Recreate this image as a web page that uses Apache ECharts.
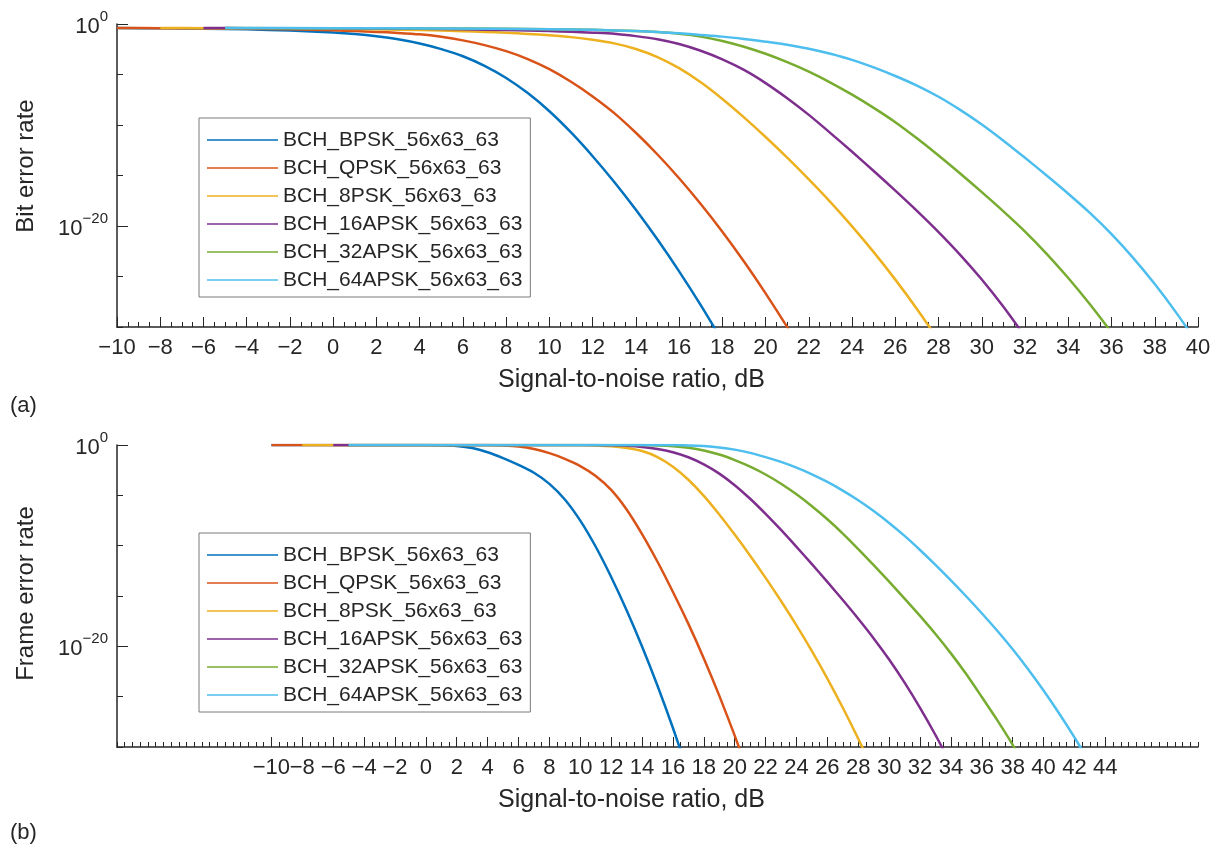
<!DOCTYPE html>
<html>
<head>
<meta charset="utf-8">
<script src="https://cdn.jsdelivr.net/npm/echarts@6/dist/echarts.min.js"></script>
<style>
html,body{margin:0;padding:0;background:#ffffff;}
#chart{width:1218px;height:850px;}
</style>
</head>
<body>
<div id="chart"></div>
<script>
// ---------- categories ----------
const seriesNames = ['BCH_BPSK_56x63_63','BCH_QPSK_56x63_63','BCH_8PSK_56x63_63','BCH_16APSK_56x63_63','BCH_32APSK_56x63_63','BCH_64APSK_56x63_63'];

// ---------- tick labels ----------
const xTicksA = [-10,-8,-6,-4,-2,0,2,4,6,8,10,12,14,16,18,20,22,24,26,28,30,32,34,36,38,40];
const xTicksB = [-10,-8,-6,-4,-2,0,2,4,6,8,10,12,14,16,18,20,22,24,26,28,30,32,34,36,38,40,42,44];
const yTickExps = [-20, 0];   // labelled decades: 10^-20 and 10^0

// ---------- panel (a): bit error rate, values read as log10(BER) ----------
const snrA_BPSK   = [-10,-8,-6,-4,-2,0,1,2,3,4,5,6,7,8,9,10,11,12,13,14,15,16,17,18];
const logBerA_BPSK = [-0.40,-0.42,-0.46,-0.53,-0.65,-0.85,-1.00,-1.22,-1.52,-1.94,-2.49,-3.19,-4.14,-5.34,-6.84,-8.64,-10.74,-13.09,-15.64,-18.39,-21.34,-24.49,-27.84,-31.39];

const snrA_QPSK   = [-10,-8,-6,-4,-2,0,1,2,3,4,5,6,7,8,9,10,11,12,13,14,15,16,17,18,19,20,21,22];
const logBerA_QPSK = [-0.40,-0.41,-0.43,-0.47,-0.53,-0.63,-0.70,-0.78,-0.88,-1.02,-1.27,-1.62,-2.09,-2.69,-3.47,-4.47,-5.72,-7.17,-8.82,-10.77,-12.92,-15.27,-17.82,-20.57,-23.52,-26.67,-30.02,-33.60];

const snrA_8PSK   = [-8,-6,-4,-2,0,2,4,6,7,8,9,10,11,12,13,14,15,16,17,18,19,20,21,22,23,24,25,26,27,28];
const logBerA_8PSK = [-0.40,-0.41,-0.42,-0.44,-0.48,-0.53,-0.60,-0.71,-0.78,-0.87,-0.98,-1.12,-1.30,-1.56,-1.92,-2.47,-3.27,-4.37,-5.77,-7.42,-9.24,-11.19,-13.24,-15.39,-17.64,-20.04,-22.59,-25.31,-28.21,-31.31];

const snrA_16APSK   = [-6,-4,-2,0,2,4,6,8,10,11,12,13,14,15,16,17,18,19,20,21,22,23,24,25,26,27,28,29,30,31,32];
const logBerA_16APSK = [-0.40,-0.41,-0.42,-0.43,-0.45,-0.48,-0.53,-0.60,-0.70,-0.77,-0.86,-0.97,-1.20,-1.50,-1.98,-2.65,-3.50,-4.55,-5.85,-7.35,-9.00,-10.80,-12.65,-14.55,-16.50,-18.50,-20.60,-22.85,-25.30,-28.00,-30.95];

const snrA_32APSK   = [-5,0,4,8,10,12,14,15,16,17,18,19,20,21,22,23,24,25,26,27,28,29,30,31,32,33,34,35,36,37];
const logBerA_32APSK = [-0.40,-0.42,-0.44,-0.48,-0.52,-0.58,-0.70,-0.80,-0.97,-1.25,-1.68,-2.25,-2.95,-3.78,-4.72,-5.80,-7.00,-8.30,-9.72,-11.32,-13.02,-14.80,-16.65,-18.55,-20.55,-22.75,-25.15,-27.75,-30.55,-33.50];

const snrA_64APSK   = [-5,0,5,10,12,14,15,16,17,18,19,20,21,22,23,24,25,26,27,28,29,30,31,32,33,34,35,36,37,38,39,40];
const logBerA_64APSK = [-0.40,-0.41,-0.44,-0.52,-0.58,-0.70,-0.80,-0.92,-1.08,-1.25,-1.48,-1.75,-2.05,-2.45,-2.95,-3.55,-4.30,-5.15,-6.10,-7.20,-8.50,-9.95,-11.55,-13.25,-15.00,-16.80,-18.70,-20.80,-23.15,-25.75,-28.60,-31.70];

// ---------- panel (b): frame error rate, values read as log10(FER) ----------
const snrB_BPSK   = [-10,-6,-2,0,1,2,3,4,5,6,7,8,9,10,11,12,13,14,15,16,17];
const logFerB_BPSK = [0,0,-0.002,-0.005,-0.02,-0.09,-0.30,-0.72,-1.30,-1.98,-2.76,-3.86,-5.41,-7.51,-10.11,-13.11,-16.41,-20.01,-23.91,-28.11,-32.61];

const snrB_QPSK   = [-10,-6,-2,0,2,3,4,5,6,7,8,9,10,11,12,13,14,15,16,17,18,19,20,21];
const logFerB_QPSK = [0,0,0,0,-0.001,-0.004,-0.01,-0.04,-0.14,-0.39,-0.81,-1.37,-2.09,-3.07,-4.45,-6.40,-8.85,-11.60,-14.60,-17.77,-21.20,-24.90,-28.87,-33.12];

const snrB_8PSK   = [-8,-4,0,4,8,10,11,12,13,14,15,16,17,18,19,20,21,22,23,24,25,26,27,28,29];
const logFerB_8PSK = [0,0,0,0,-0.002,-0.01,-0.04,-0.12,-0.30,-0.60,-1.20,-2.15,-3.45,-5.05,-6.90,-8.90,-11.00,-13.20,-15.50,-17.92,-20.48,-23.20,-26.10,-29.18,-32.43];

const snrB_16APSK   = [-6,-2,2,6,10,11,12,13,14,15,16,17,18,19,20,21,22,23,24,25,26,27,28,29,30,31,32,33,34];
const logFerB_16APSK = [0,0,0,0,-0.003,-0.01,-0.03,-0.08,-0.19,-0.39,-0.72,-1.22,-1.92,-2.84,-3.99,-5.34,-6.84,-8.44,-10.12,-11.84,-13.60,-15.40,-17.26,-19.21,-21.31,-23.61,-26.11,-28.81,-31.71];

const snrB_32APSK   = [-5,0,5,10,12,13,14,15,16,17,18,19,20,21,22,23,24,25,26,27,28,29,30,31,32,33,34,35,36,37,38,39];
const logFerB_32APSK = [0,0,0,0,-0.001,-0.004,-0.01,-0.04,-0.12,-0.28,-0.55,-0.95,-1.50,-2.15,-2.93,-3.85,-4.90,-6.08,-7.38,-8.80,-10.34,-11.94,-13.58,-15.26,-16.98,-18.78,-20.70,-22.78,-25.03,-27.33,-29.78,-32.50];

const snrB_64APSK   = [-5,0,5,10,14,15,16,17,18,19,20,21,22,23,24,25,26,27,28,29,30,31,32,33,34,35,36,37,38,39,40,41,42,43];
const logFerB_64APSK = [0,0,0,0,-0.001,-0.004,-0.01,-0.04,-0.11,-0.24,-0.46,-0.78,-1.20,-1.68,-2.25,-2.91,-3.67,-4.53,-5.49,-6.56,-7.74,-9.03,-10.43,-11.91,-13.45,-15.05,-16.71,-18.45,-20.29,-22.27,-24.39,-26.65,-29.05,-31.60];

// ---------- styling ----------
const seriesColors = ['#0072BD','#D95319','#EDB120','#7E2F8E','#77AC30','#4DBEEE'];
const FONT = '"Liberation Sans", Arial, Helvetica, sans-serif';
const INK = '#262626';
const xTitle = 'Signal-to-noise ratio, dB';

function fmtNum(v) { return v < 0 ? '\u2212' + Math.abs(v) : String(v); }
const everyOther = (arr, parity) => arr.filter((v, i) => i % 2 === parity);

function minorXAxis(gridIndex, min, max) {
  return {
    type: 'value', gridIndex, min, max, interval: 0.5, position: 'bottom',
    axisLine: { show: true, onZero: false, lineStyle: { color: INK, width: 1.5 } },
    axisTick: { show: true, inside: true, length: 5, lineStyle: { color: INK, width: 1 } },
    axisLabel: { show: false }, splitLine: { show: false }
  };
}
function xLabelStyle(values) {
  return { show: true, customValues: values, formatter: fmtNum, margin: 10, fontSize: 22,
           color: INK, fontFamily: FONT, hideOverlap: false };
}
function majorXAxis(gridIndex, min, max, ticks, labels) {
  return {
    type: 'value', gridIndex, min, max, position: 'bottom',
    axisLine: { show: false, onZero: false },
    axisTick: { show: true, inside: true, length: 10, customValues: ticks, lineStyle: { color: INK, width: 1 } },
    axisLabel: xLabelStyle(labels),
    splitLine: { show: false },
    name: xTitle, nameLocation: 'middle', nameGap: 41,
    nameTextStyle: { fontSize: 25, color: INK, fontFamily: FONT, padding: [0, 52, 0, 0] }
  };
}
function labelOnlyXAxis(gridIndex, min, max, labels) {
  return {
    type: 'value', gridIndex, min, max, position: 'bottom',
    axisLine: { show: false, onZero: false }, axisTick: { show: false },
    axisLabel: xLabelStyle(labels), splitLine: { show: false }
  };
}
function logYAxis(gridIndex) {
  return {
    type: 'log', logBase: 10, gridIndex, min: 1e-30, max: 1, position: 'left',
    axisLine: { show: true, onZero: false, lineStyle: { color: INK, width: 1.5 } },
    axisTick: { show: false }, axisLabel: { show: false },
    splitLine: { show: false }, minorTick: { show: false }, minorSplitLine: { show: false }
  };
}
function minorYAxis(gridIndex) {
  return {
    type: 'value', gridIndex, min: -30, max: 0, interval: 5, position: 'left',
    axisLine: { show: false, onZero: false },
    axisTick: { show: true, inside: true, length: 6, lineStyle: { color: INK, width: 1 } },
    axisLabel: { show: false }, splitLine: { show: false }
  };
}
function majorYAxis(gridIndex, title, shift) {
  return {
    type: 'value', gridIndex, min: -30, max: 0, position: 'left',
    axisLine: { show: false, onZero: false },
    axisTick: { show: true, inside: true, length: 11, customValues: yTickExps, lineStyle: { color: INK, width: 1 } },
    axisLabel: {
      show: true, customValues: yTickExps, margin: 9, hideOverlap: false,
      formatter: v => '{b|10}{s|' + fmtNum(v) + '}',
      rich: {
        b: { fontSize: 22, lineHeight: 30, padding: [5, 0, 0, 0], fontFamily: FONT, color: INK },
        s: { fontSize: 15, lineHeight: 18, verticalAlign: 'top', fontFamily: FONT, color: INK }
      }
    },
    splitLine: { show: false },
    name: title, nameLocation: 'middle', nameGap: 79, nameRotate: 90,
    nameTextStyle: { fontSize: 24, color: INK, fontFamily: FONT, padding: [0, 0, 0, shift] }
  };
}
function legendAt(top) {
  return {
    show: true, orient: 'vertical', left: 199, top,
    data: seriesNames, icon: 'rect', itemWidth: 71, itemHeight: 1.6, itemGap: 0,
    padding: [8, 8, 3, 8], backgroundColor: '#ffffff',
    borderColor: '#7a7a7a', borderWidth: 1, borderRadius: 0,
    selectedMode: false,
    textStyle: { fontSize: 21, fontFamily: FONT, color: INK, lineHeight: 28 }
  };
}
function makeSeries(xsList, logList, xIdx, yIdx) {
  return seriesNames.map((n, i) => ({
    type: 'line', name: n, xAxisIndex: xIdx, yAxisIndex: yIdx,
    data: xsList[i].map((x, j) => [x, Math.pow(10, logList[i][j])]),
    showSymbol: false, symbol: 'none', smooth: 0.25, clip: true, silent: true,
    lineStyle: { width: 2.5, color: seriesColors[i] },
    itemStyle: { color: seriesColors[i] }, z: 2 + i
  }));
}

const chart = echarts.init(document.getElementById('chart'), null, { renderer: 'canvas' });
chart.setOption({
  backgroundColor: '#ffffff',
  animation: false,
  textStyle: { fontFamily: FONT },
  grid: [
    { left: 117, top: 24, width: 1081, height: 303, containLabel: false, outerBoundsMode: 'none' },
    { left: 117, top: 445, width: 1081, height: 302, containLabel: false, outerBoundsMode: 'none' }
  ],
  xAxis: [
    minorXAxis(0, -10, 40), majorXAxis(0, -10, 40, xTicksA, xTicksA),
    minorXAxis(1, -20, 50), majorXAxis(1, -20, 50, xTicksB, everyOther(xTicksB, 0)),
    labelOnlyXAxis(1, -20, 50, everyOther(xTicksB, 1))
  ],
  yAxis: [
    logYAxis(0), minorYAxis(0), majorYAxis(0, 'Bit error rate', 19),
    logYAxis(1), minorYAxis(1), majorYAxis(1, 'Frame error rate', 5)
  ],
  legend: [legendAt(118), legendAt(533)],
  graphic: [
    { type: 'text', left: 10, top: 395, style: { text: '(a)', font: '22px "Liberation Sans", Arial, sans-serif', fill: INK } },
    { type: 'text', left: 10, top: 822, style: { text: '(b)', font: '22px "Liberation Sans", Arial, sans-serif', fill: INK } }
  ],
  series: [
    ...makeSeries([snrA_BPSK, snrA_QPSK, snrA_8PSK, snrA_16APSK, snrA_32APSK, snrA_64APSK],
                  [logBerA_BPSK, logBerA_QPSK, logBerA_8PSK, logBerA_16APSK, logBerA_32APSK, logBerA_64APSK], 0, 0),
    ...makeSeries([snrB_BPSK, snrB_QPSK, snrB_8PSK, snrB_16APSK, snrB_32APSK, snrB_64APSK],
                  [logFerB_BPSK, logFerB_QPSK, logFerB_8PSK, logFerB_16APSK, logFerB_32APSK, logFerB_64APSK], 2, 3)
  ]
});
</script>
</body>
</html>
